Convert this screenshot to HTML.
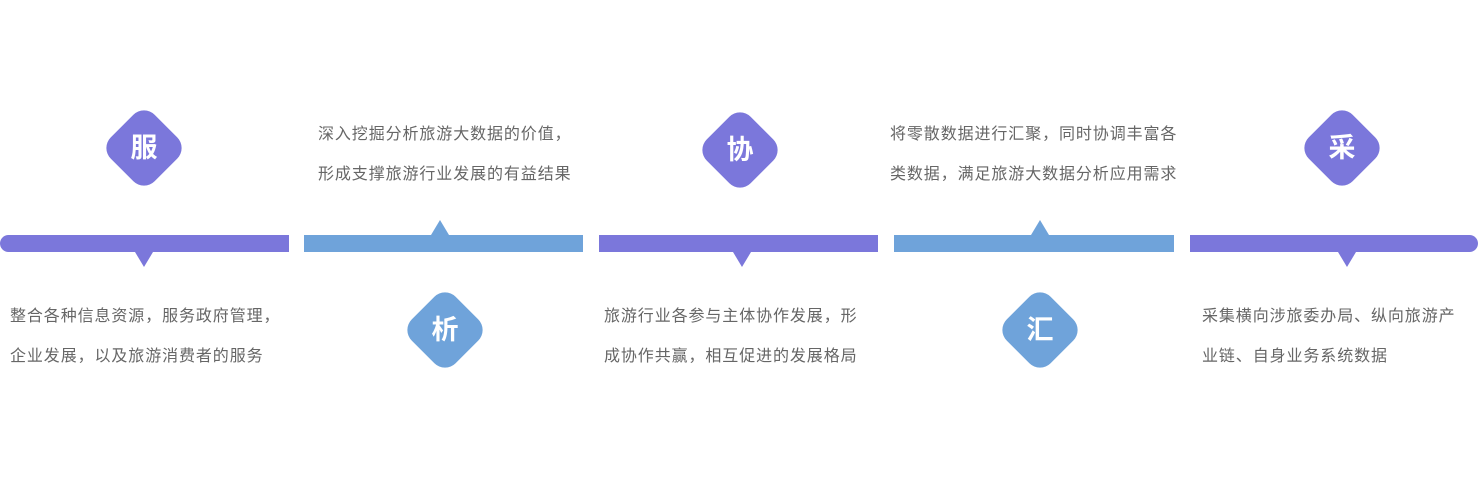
<!DOCTYPE html>
<html><head><meta charset="utf-8"><style>
body{margin:0;width:1480px;height:500px;background:#fff;position:relative;overflow:hidden;font-family:"Liberation Sans","Noto Sans CJK SC",sans-serif}
.bar{position:absolute;top:235px;height:17px}
.p{background:#7b77db}.b{background:#6fa3da}
.tri{position:absolute;width:0;height:0;border-left:9px solid transparent;border-right:9px solid transparent}
.dn{top:252px;border-top:15px solid #7b77db}
.up{top:220px;border-bottom:15px solid #6fa3da}
.d{position:absolute;width:62px;height:62px;border-radius:15px;transform:rotate(45deg)}
.l{position:absolute;width:80px;height:40px;line-height:40px;text-align:center;color:#fff;font-size:27px;font-weight:bold}
.t{position:absolute;font-size:16px;letter-spacing:0.9px;color:#666;line-height:40px;white-space:nowrap}
</style></head><body>
<div class="bar p" style="left:0;width:289px;border-radius:9px 0 0 9px"></div>
<div class="bar b" style="left:304px;width:279px"></div>
<div class="bar p" style="left:599px;width:279px"></div>
<div class="bar b" style="left:894px;width:280px"></div>
<div class="bar p" style="left:1190px;width:288px;border-radius:0 9px 9px 0"></div>
<div class="tri dn" style="left:135px"></div>
<div class="tri dn" style="left:733px"></div>
<div class="tri dn" style="left:1338px"></div>
<div class="tri up" style="left:431px"></div>
<div class="tri up" style="left:1031px"></div>

<div class="d p" style="left:113px;top:117px"></div><div class="l" style="left:104px;top:128px">服</div>
<div class="d b" style="left:414px;top:299px"></div><div class="l" style="left:405px;top:310px">析</div>
<div class="d p" style="left:709px;top:119px"></div><div class="l" style="left:700px;top:130px">协</div>
<div class="d b" style="left:1009px;top:299px"></div><div class="l" style="left:1000px;top:310px">汇</div>
<div class="d p" style="left:1311px;top:117px"></div><div class="l" style="left:1302px;top:128px">采</div>

<div class="t" style="left:318px;top:115px">深入挖掘分析旅游大数据的价值，<br>形成支撑旅游行业发展的有益结果</div>
<div class="t" style="left:890px;top:115px">将零散数据进行汇聚，同时协调丰富各<br>类数据，满足旅游大数据分析应用需求</div>
<div class="t" style="left:10px;top:297px">整合各种信息资源，服务政府管理，<br>企业发展，以及旅游消费者的服务</div>
<div class="t" style="left:604px;top:297px">旅游行业各参与主体协作发展，形<br>成协作共赢，相互促进的发展格局</div>
<div class="t" style="left:1202px;top:297px">采集横向涉旅委办局、纵向旅游产<br>业链、自身业务系统数据</div>
</body></html>
